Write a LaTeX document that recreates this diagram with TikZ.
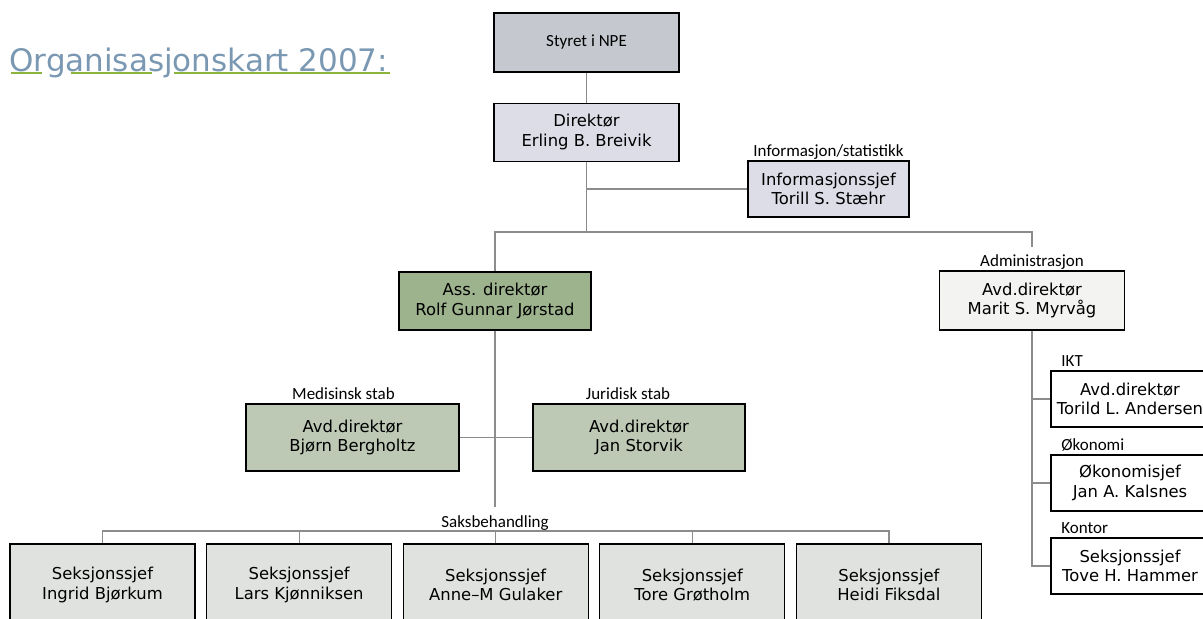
\documentclass[tikz,border=0pt]{standalone}
\usepackage{fontspec}
\setmainfont{DejaVu Sans}
\newfontfamily\labelfont{Carlito}
\usepackage{tikz}
\usetikzlibrary{positioning}
\definecolor{boardgray}{RGB}{198,200,207}
\definecolor{dirblue}{RGB}{220,221,231}
\definecolor{assgreen}{RGB}{157,179,141}
\definecolor{stabgreen}{RGB}{189,200,181}
\definecolor{admwhite}{RGB}{243,243,241}
\definecolor{seksgray}{RGB}{223,226,223}
\definecolor{linegray}{RGB}{140,140,140}
\definecolor{titleblue}{RGB}{122,152,178}
\definecolor{squiggreen}{RGB}{140,180,60}

\begin{document}
\begin{tikzpicture}[x=0.5pt,y=-0.5pt,node distance=15pt,
      box/.style={draw,line width=0.6pt,minimum width=92.5pt,minimum height=29.5pt,align=center,inner sep=1pt,
        font=\fontsize{8.2}{9.8}\selectfont},
      seks/.style={box,fill=seksgray,minimum height=41pt},
      sub/.style={box,fill=white,minimum width=79pt,minimum height=28pt},
      lbl/.style={inner sep=0pt,outer sep=4pt,anchor=base,font=\labelfont\fontsize{8.5}{10}\selectfont},
      conn/.style={draw=linegray,line width=0.6pt}]
      \useasboundingbox (0,0) rectangle (1203,618);
      \clip (0,0) rectangle (1203,618);
      \node (title) [anchor=base west,inner sep=0pt,text=titleblue,font=\fontsize{15.5}{18}\selectfont] at (9,71) {Organisasjonskart 2007:};
      \draw[squiggreen,line width=0.7pt] (11,73) -- (42,73) (71,73) -- (152,73) (174,73) -- (390,73);
      \node (styret) [box,fill=boardgray,font=\labelfont\fontsize{8.5}{10}\selectfont] at (586.5,42.5) {Styret i NPE};
      \node (dir)    [box,fill=dirblue,minimum height=29pt,below=of styret] {Direktør\\Erling B. Breivik};
      \node (info)   [box,fill=dirblue,minimum width=80.5pt,minimum height=28pt] at (828.5,189) {Informasjonssjef\\Torill S. Stæhr};
      \node (infolab) [lbl] at ([yshift=2pt]info.north) {Informasjon/statistikk};
      \node (ass)    [box,fill=assgreen,minimum width=96pt,minimum height=29pt] at (495,301) {Ass. direktør\\Rolf Gunnar Jørstad};
      \node (adm)    [box,fill=admwhite] at (1032,300.5) {Avd.direktør\\Marit S. Myrvåg};
      \node (admlab) [lbl] at ([yshift=2pt]adm.north) {Administrasjon};
      \node (med)    [box,fill=stabgreen,minimum width=106.5pt,minimum height=33.5pt] at (352.5,437.5) {Avd.direktør\\Bjørn Bergholtz};
      \node (jur)    [box,fill=stabgreen,minimum width=106pt,minimum height=33.5pt] at (639,437.5) {Avd.direktør\\Jan Storvik};
      \node (medlab) [lbl] at ([xshift=-4.5pt,yshift=2pt]med.north) {Medisinsk stab};
      \node (jurlab) [lbl] at ([xshift=-5.5pt,yshift=2pt]jur.north) {Juridisk stab};
      \coordinate (bus) at (495,531);
      \node (saks)   [lbl] at ([yshift=2pt]bus) {Saksbehandling};
      \node (s1) [seks] at (102.5,585) {Seksjonssjef\\Ingrid Bjørkum};
      \node (s2) [seks,right=5.2pt of s1] {Seksjonssjef\\Lars Kjønniksen};
      \node (s3) [seks,right=5.2pt of s2] {Seksjonssjef\\Anne–M Gulaker};
      \node (s4) [seks,right=5.2pt of s3] {Seksjonssjef\\Tore Grøtholm};
      \node (s5) [seks,right=5.2pt of s4] {Seksjonssjef\\Heidi Fiksdal};
      \node (ikt) [sub] at (1130,399) {Avd.direktør\\Torild L. Andersen};
      \node (oko) [sub,below=13.4pt of ikt] {Økonomisjef\\Jan A. Kalsnes};
      \node (kon) [sub,below=12.9pt of oko] {Seksjonssjef\\Tove H. Hammer};
      \node (iktlab) [lbl,anchor=base west] at ([xshift=1.5pt,yshift=2pt]ikt.north west) {IKT};
      \node (okolab) [lbl,anchor=base west] at ([xshift=1.5pt,yshift=2pt]oko.north west) {Økonomi};
      \node (konlab) [lbl,anchor=base west] at ([xshift=1.5pt,yshift=2pt]kon.north west) {Kontor};
      \coordinate (split) at (dir.south |- 0,232);
      \draw[conn] (styret) -- (dir);
      \draw[conn] (dir) -- (split);
      \draw[conn] (info.west) -- (info.west -| dir.south);
      \draw[conn] (ass.north) |- (split) -| (admlab.north);
      \draw[conn] (ass) -- (saks.north);
      \draw[conn] (med) -- (jur);
      \draw[conn] (s1.north) |- (bus) -| (s5.north);
      \foreach \s in {s2,s3,s4} \draw[conn] (\s.north) -- (\s.north |- bus);
      \draw[conn] (adm.south) |- (kon.west);
      \draw[conn] (ikt.west) -- (ikt.west -| adm.south);
      \draw[conn] (oko.west) -- (oko.west -| adm.south);
    \end{tikzpicture}
\end{document}
